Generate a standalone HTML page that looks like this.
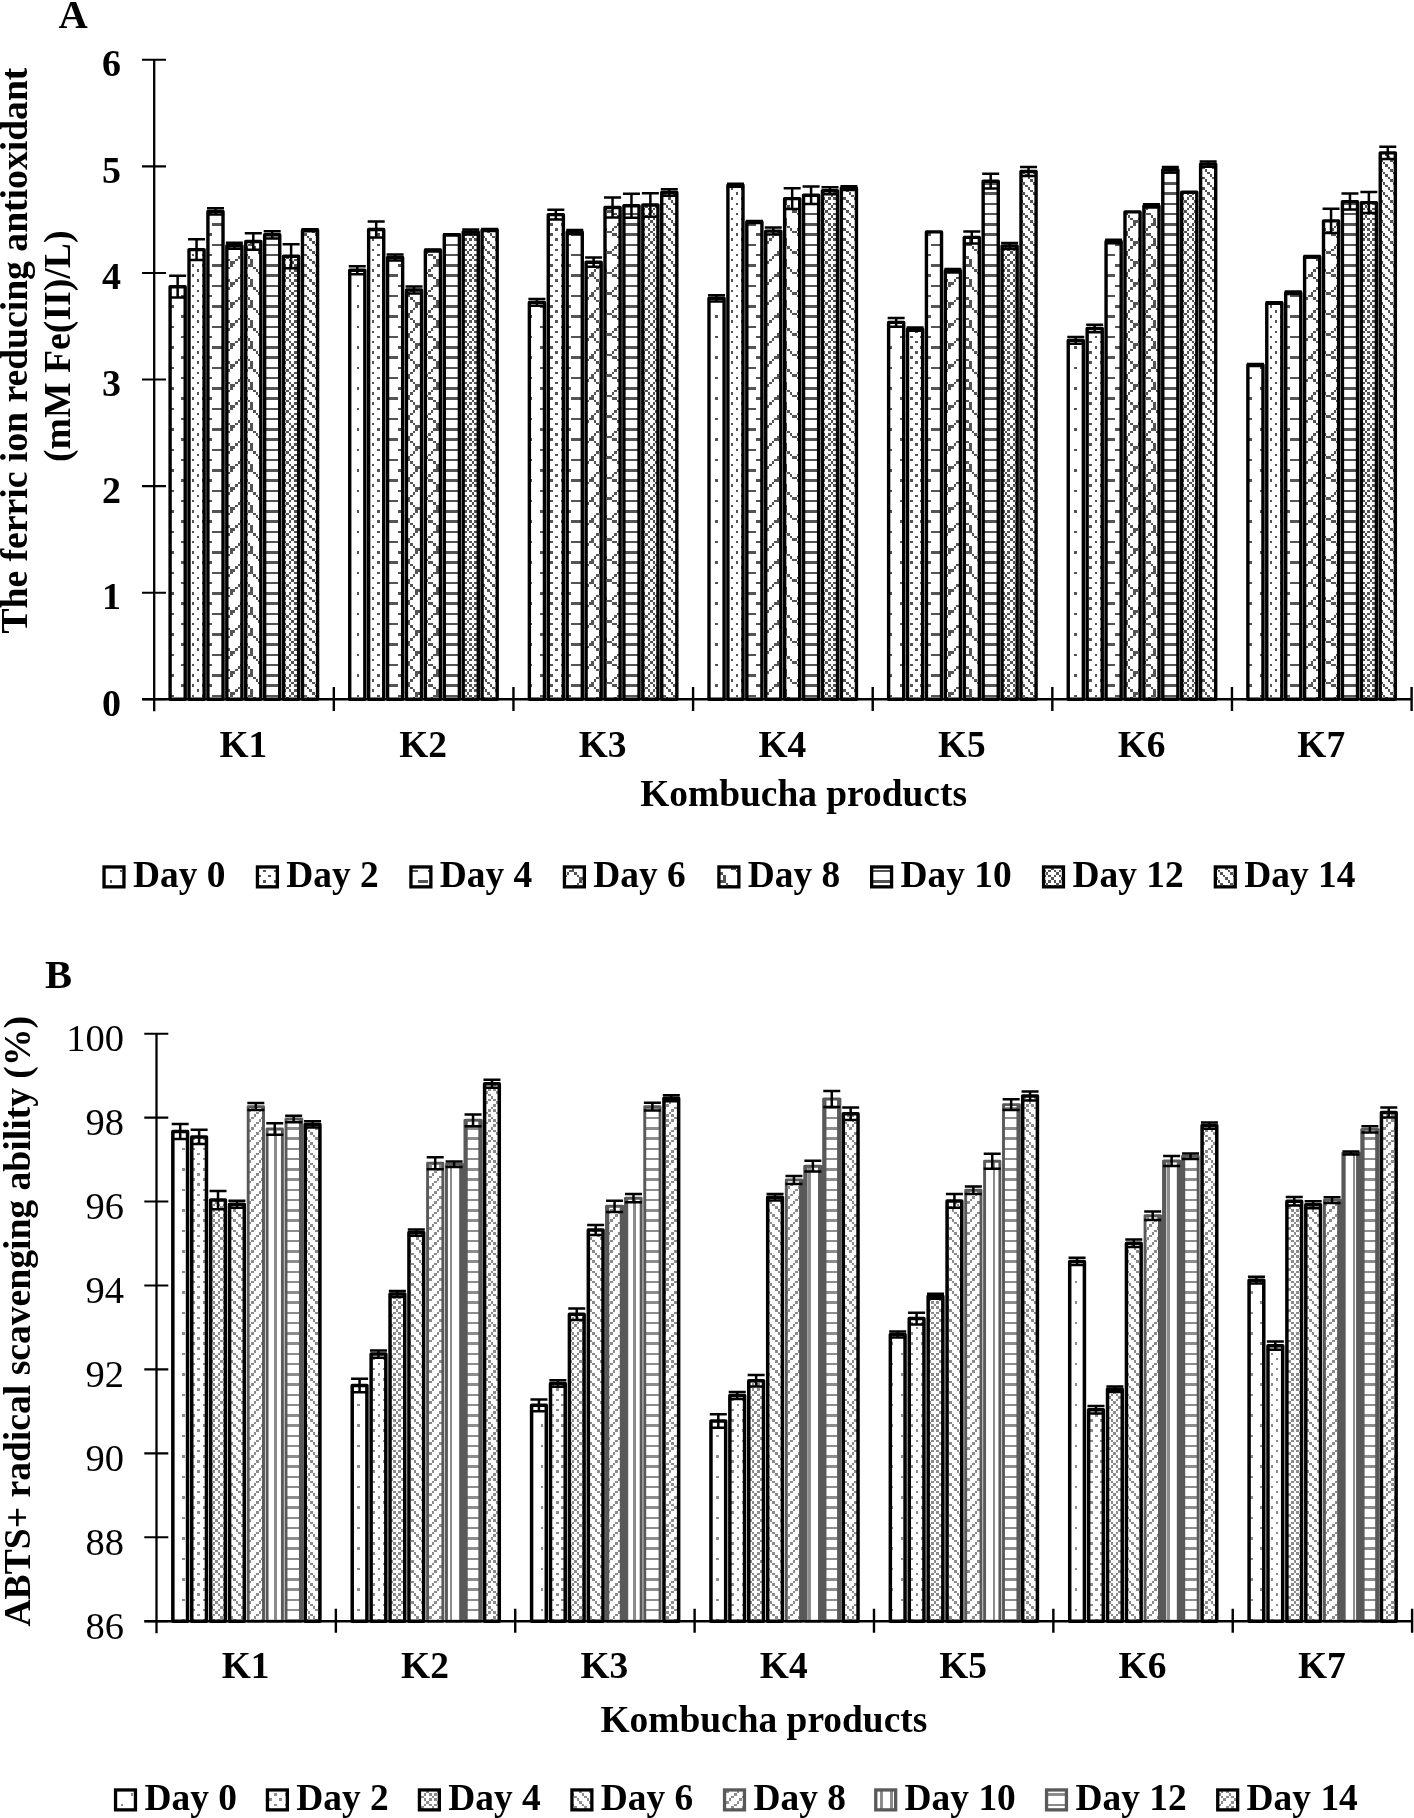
<!DOCTYPE html>
<html lang="en"><head><meta charset="utf-8"><title>Kombucha antioxidant charts</title>
<style>html,body{margin:0;padding:0;background:#fff}body{width:1414px;height:1818px;overflow:hidden;font-family:"Liberation Serif",serif}svg{display:block;will-change:transform}</style></head>
<body>
<svg width="1414" height="1818" viewBox="0 0 1414 1818" font-family="'Liberation Serif', serif" fill="#000">
<rect width="1414" height="1818" fill="#fff"/>
<defs>
<pattern id="a0" patternUnits="userSpaceOnUse" width="41" height="41"><rect width="41" height="41" fill="#fff"/><path fill="#545454" shape-rendering="crispEdges" d="M0 0h3v3h-3zM21 0h2v3h-2zM10 10h3v3h-3zM31 10h2v3h-2zM0 21h3v2h-3zM21 21h2v2h-2zM10 31h3v2h-3zM31 31h2v2h-2z"/></pattern>
<pattern id="a1" patternUnits="userSpaceOnUse" width="41" height="41"><rect width="41" height="41" fill="#fff"/><path fill="#545454" shape-rendering="crispEdges" d="M0 0h3v3h-3zM10 0h3v3h-3zM21 0h2v3h-2zM31 0h2v3h-2zM5 5h3v3h-3zM15 5h3v3h-3zM26 5h2v3h-2zM36 5h2v3h-2zM0 10h3v3h-3zM10 10h3v3h-3zM21 10h2v3h-2zM31 10h2v3h-2zM5 15h3v3h-3zM15 15h3v3h-3zM26 15h2v3h-2zM36 15h2v3h-2zM0 21h3v2h-3zM10 21h3v2h-3zM21 21h2v2h-2zM31 21h2v2h-2zM5 26h3v2h-3zM15 26h3v2h-3zM26 26h2v2h-2zM36 26h2v2h-2zM0 31h3v2h-3zM10 31h3v2h-3zM21 31h2v2h-2zM31 31h2v2h-2zM5 36h3v2h-3zM15 36h3v2h-3zM26 36h2v2h-2zM36 36h2v2h-2z"/></pattern>
<pattern id="a2" patternUnits="userSpaceOnUse" width="41" height="41"><rect width="41" height="41" fill="#fff"/><path fill="#545454" shape-rendering="crispEdges" d="M0 0h10v3h-10zM21 0h10v3h-10zM10 10h11v3h-11zM31 10h10v3h-10zM0 21h10v2h-10zM21 21h10v2h-10zM10 31h11v2h-11zM31 31h10v2h-10z"/></pattern>
<pattern id="a3" patternUnits="userSpaceOnUse" width="41" height="41"><rect width="41" height="41" fill="#fff"/><path fill="#545454" shape-rendering="crispEdges" d="M18 0h3v3h-3zM38 0h3v3h-3zM15 3h3v2h-3zM36 3h2v2h-2zM13 5h2v3h-2zM33 5h3v3h-3zM10 8h3v2h-3zM31 8h2v2h-2zM8 10h5v3h-5zM28 10h5v3h-5zM5 13h3v2h-3zM13 13h2v2h-2zM26 13h2v2h-2zM33 13h3v2h-3zM3 15h2v3h-2zM15 15h3v3h-3zM23 15h3v3h-3zM36 15h2v3h-2zM0 18h3v3h-3zM18 18h5v3h-5zM38 18h3v3h-3zM18 21h3v2h-3zM38 21h3v2h-3zM15 23h3v3h-3zM36 23h2v3h-2zM13 26h2v2h-2zM33 26h3v2h-3zM10 28h3v3h-3zM31 28h2v3h-2zM8 31h5v2h-5zM28 31h5v2h-5zM5 33h3v3h-3zM13 33h2v3h-2zM26 33h2v3h-2zM33 33h3v3h-3zM3 36h2v2h-2zM15 36h3v2h-3zM23 36h3v2h-3zM36 36h2v2h-2zM0 38h3v3h-3zM18 38h5v3h-5zM38 38h3v3h-3z"/></pattern>
<pattern id="a4" patternUnits="userSpaceOnUse" width="41" height="41"><rect width="41" height="41" fill="#fff"/><path fill="#545454" shape-rendering="crispEdges" d="M15 0h6v3h-6zM36 0h5v3h-5zM0 3h3v2h-3zM13 3h2v2h-2zM21 3h2v2h-2zM33 3h3v2h-3zM3 5h2v3h-2zM10 5h3v3h-3zM23 5h3v3h-3zM31 5h2v3h-2zM5 8h5v2h-5zM26 8h5v2h-5zM10 10h5v3h-5zM31 10h5v3h-5zM15 13h3v2h-3zM36 13h2v2h-2zM18 15h3v3h-3zM38 15h3v3h-3zM18 18h3v3h-3zM38 18h3v3h-3zM15 21h6v2h-6zM36 21h5v2h-5zM0 23h3v3h-3zM13 23h2v3h-2zM21 23h2v3h-2zM33 23h3v3h-3zM3 26h2v2h-2zM10 26h3v2h-3zM23 26h3v2h-3zM31 26h2v2h-2zM5 28h5v3h-5zM26 28h5v3h-5zM10 31h5v2h-5zM31 31h5v2h-5zM15 33h3v3h-3zM36 33h2v3h-2zM18 36h3v2h-3zM38 36h3v2h-3zM18 38h3v3h-3zM38 38h3v3h-3z"/></pattern>
<pattern id="a5" patternUnits="userSpaceOnUse" width="41" height="41"><rect width="41" height="41" fill="#fff"/><path fill="#545454" shape-rendering="crispEdges" d="M0 0h41v3h-41zM0 10h41v3h-41zM0 21h41v2h-41zM0 31h41v2h-41z"/></pattern>
<pattern id="a6" patternUnits="userSpaceOnUse" width="41" height="41"><rect width="41" height="41" fill="#fff"/><path fill="#545454" shape-rendering="crispEdges" d="M0 0h3v3h-3zM5 0h3v3h-3zM10 0h3v3h-3zM15 0h3v3h-3zM21 0h2v3h-2zM26 0h2v3h-2zM31 0h2v3h-2zM36 0h2v3h-2zM3 3h2v2h-2zM13 3h2v2h-2zM23 3h3v2h-3zM33 3h3v2h-3zM0 5h3v3h-3zM5 5h3v3h-3zM10 5h3v3h-3zM15 5h3v3h-3zM21 5h2v3h-2zM26 5h2v3h-2zM31 5h2v3h-2zM36 5h2v3h-2zM8 8h2v2h-2zM18 8h3v2h-3zM28 8h3v2h-3zM38 8h3v2h-3zM0 10h3v3h-3zM5 10h3v3h-3zM10 10h3v3h-3zM15 10h3v3h-3zM21 10h2v3h-2zM26 10h2v3h-2zM31 10h2v3h-2zM36 10h2v3h-2zM3 13h2v2h-2zM13 13h2v2h-2zM23 13h3v2h-3zM33 13h3v2h-3zM0 15h3v3h-3zM5 15h3v3h-3zM10 15h3v3h-3zM15 15h3v3h-3zM21 15h2v3h-2zM26 15h2v3h-2zM31 15h2v3h-2zM36 15h2v3h-2zM8 18h2v3h-2zM18 18h3v3h-3zM28 18h3v3h-3zM38 18h3v3h-3zM0 21h3v2h-3zM5 21h3v2h-3zM10 21h3v2h-3zM15 21h3v2h-3zM21 21h2v2h-2zM26 21h2v2h-2zM31 21h2v2h-2zM36 21h2v2h-2zM3 23h2v3h-2zM13 23h2v3h-2zM23 23h3v3h-3zM33 23h3v3h-3zM0 26h3v2h-3zM5 26h3v2h-3zM10 26h3v2h-3zM15 26h3v2h-3zM21 26h2v2h-2zM26 26h2v2h-2zM31 26h2v2h-2zM36 26h2v2h-2zM8 28h2v3h-2zM18 28h3v3h-3zM28 28h3v3h-3zM38 28h3v3h-3zM0 31h3v2h-3zM5 31h3v2h-3zM10 31h3v2h-3zM15 31h3v2h-3zM21 31h2v2h-2zM26 31h2v2h-2zM31 31h2v2h-2zM36 31h2v2h-2zM3 33h2v3h-2zM13 33h2v3h-2zM23 33h3v3h-3zM33 33h3v3h-3zM0 36h3v2h-3zM5 36h3v2h-3zM10 36h3v2h-3zM15 36h3v2h-3zM21 36h2v2h-2zM26 36h2v2h-2zM31 36h2v2h-2zM36 36h2v2h-2zM8 38h2v3h-2zM18 38h3v3h-3zM28 38h3v3h-3zM38 38h3v3h-3z"/></pattern>
<pattern id="a7" patternUnits="userSpaceOnUse" width="41" height="41"><rect width="41" height="41" fill="#fff"/><path fill="#545454" shape-rendering="crispEdges" d="M0 0h3v3h-3zM10 0h3v3h-3zM21 0h2v3h-2zM31 0h2v3h-2zM3 3h2v2h-2zM13 3h2v2h-2zM23 3h3v2h-3zM33 3h3v2h-3zM5 5h3v3h-3zM15 5h3v3h-3zM26 5h2v3h-2zM36 5h2v3h-2zM8 8h2v2h-2zM18 8h3v2h-3zM28 8h3v2h-3zM38 8h3v2h-3zM0 10h3v3h-3zM10 10h3v3h-3zM21 10h2v3h-2zM31 10h2v3h-2zM3 13h2v2h-2zM13 13h2v2h-2zM23 13h3v2h-3zM33 13h3v2h-3zM5 15h3v3h-3zM15 15h3v3h-3zM26 15h2v3h-2zM36 15h2v3h-2zM8 18h2v3h-2zM18 18h3v3h-3zM28 18h3v3h-3zM38 18h3v3h-3zM0 21h3v2h-3zM10 21h3v2h-3zM21 21h2v2h-2zM31 21h2v2h-2zM3 23h2v3h-2zM13 23h2v3h-2zM23 23h3v3h-3zM33 23h3v3h-3zM5 26h3v2h-3zM15 26h3v2h-3zM26 26h2v2h-2zM36 26h2v2h-2zM8 28h2v3h-2zM18 28h3v3h-3zM28 28h3v3h-3zM38 28h3v3h-3zM0 31h3v2h-3zM10 31h3v2h-3zM21 31h2v2h-2zM31 31h2v2h-2zM3 33h2v3h-2zM13 33h2v3h-2zM23 33h3v3h-3zM33 33h3v3h-3zM5 36h3v2h-3zM15 36h3v2h-3zM26 36h2v2h-2zM36 36h2v2h-2zM8 38h2v3h-2zM18 38h3v3h-3zM28 38h3v3h-3zM38 38h3v3h-3z"/></pattern>
<pattern id="a0g0" href="#a0" patternTransform="translate(7 18)"/>
<pattern id="a1g0" href="#a1" patternTransform="translate(7 18)"/>
<pattern id="a2g0" href="#a2" patternTransform="translate(7 18)"/>
<pattern id="a3g0" href="#a3" patternTransform="translate(7 18)"/>
<pattern id="a4g0" href="#a4" patternTransform="translate(7 18)"/>
<pattern id="a5g0" href="#a5" patternTransform="translate(7 18)"/>
<pattern id="a6g0" href="#a6" patternTransform="translate(7 18)"/>
<pattern id="a7g0" href="#a7" patternTransform="translate(7 18)"/>
<pattern id="a0g1" href="#a0" patternTransform="translate(8 18)"/>
<pattern id="a1g1" href="#a1" patternTransform="translate(8 18)"/>
<pattern id="a2g1" href="#a2" patternTransform="translate(8 18)"/>
<pattern id="a3g1" href="#a3" patternTransform="translate(8 18)"/>
<pattern id="a4g1" href="#a4" patternTransform="translate(8 18)"/>
<pattern id="a5g1" href="#a5" patternTransform="translate(8 18)"/>
<pattern id="a6g1" href="#a6" patternTransform="translate(8 18)"/>
<pattern id="a7g1" href="#a7" patternTransform="translate(8 18)"/>
<pattern id="a0g2" href="#a0" patternTransform="translate(7 18)"/>
<pattern id="a1g2" href="#a1" patternTransform="translate(7 18)"/>
<pattern id="a2g2" href="#a2" patternTransform="translate(7 18)"/>
<pattern id="a3g2" href="#a3" patternTransform="translate(7 18)"/>
<pattern id="a4g2" href="#a4" patternTransform="translate(7 18)"/>
<pattern id="a5g2" href="#a5" patternTransform="translate(7 18)"/>
<pattern id="a6g2" href="#a6" patternTransform="translate(7 18)"/>
<pattern id="a7g2" href="#a7" patternTransform="translate(7 18)"/>
<pattern id="a0g3" href="#a0" patternTransform="translate(8 18)"/>
<pattern id="a1g3" href="#a1" patternTransform="translate(8 18)"/>
<pattern id="a2g3" href="#a2" patternTransform="translate(8 18)"/>
<pattern id="a3g3" href="#a3" patternTransform="translate(8 18)"/>
<pattern id="a4g3" href="#a4" patternTransform="translate(8 18)"/>
<pattern id="a5g3" href="#a5" patternTransform="translate(8 18)"/>
<pattern id="a6g3" href="#a6" patternTransform="translate(8 18)"/>
<pattern id="a7g3" href="#a7" patternTransform="translate(8 18)"/>
<pattern id="a0g4" href="#a0" patternTransform="translate(8 18)"/>
<pattern id="a1g4" href="#a1" patternTransform="translate(8 18)"/>
<pattern id="a2g4" href="#a2" patternTransform="translate(8 18)"/>
<pattern id="a3g4" href="#a3" patternTransform="translate(8 18)"/>
<pattern id="a4g4" href="#a4" patternTransform="translate(8 18)"/>
<pattern id="a5g4" href="#a5" patternTransform="translate(8 18)"/>
<pattern id="a6g4" href="#a6" patternTransform="translate(8 18)"/>
<pattern id="a7g4" href="#a7" patternTransform="translate(8 18)"/>
<pattern id="a0g5" href="#a0" patternTransform="translate(8 18)"/>
<pattern id="a1g5" href="#a1" patternTransform="translate(8 18)"/>
<pattern id="a2g5" href="#a2" patternTransform="translate(8 18)"/>
<pattern id="a3g5" href="#a3" patternTransform="translate(8 18)"/>
<pattern id="a4g5" href="#a4" patternTransform="translate(8 18)"/>
<pattern id="a5g5" href="#a5" patternTransform="translate(8 18)"/>
<pattern id="a6g5" href="#a6" patternTransform="translate(8 18)"/>
<pattern id="a7g5" href="#a7" patternTransform="translate(8 18)"/>
<pattern id="a0g6" href="#a0" patternTransform="translate(9 18)"/>
<pattern id="a1g6" href="#a1" patternTransform="translate(9 18)"/>
<pattern id="a2g6" href="#a2" patternTransform="translate(9 18)"/>
<pattern id="a3g6" href="#a3" patternTransform="translate(9 18)"/>
<pattern id="a4g6" href="#a4" patternTransform="translate(9 18)"/>
<pattern id="a5g6" href="#a5" patternTransform="translate(9 18)"/>
<pattern id="a6g6" href="#a6" patternTransform="translate(9 18)"/>
<pattern id="a7g6" href="#a7" patternTransform="translate(9 18)"/>
<pattern id="a0l" href="#a0" patternTransform="translate(7 19)"/>
<pattern id="a1l" href="#a1" patternTransform="translate(7 19)"/>
<pattern id="a2l" href="#a2" patternTransform="translate(8 19)"/>
<pattern id="a3l" href="#a3" patternTransform="translate(8 19)"/>
<pattern id="a4l" href="#a4" patternTransform="translate(8 19)"/>
<pattern id="a5l" href="#a5" patternTransform="translate(8 19)"/>
<pattern id="a6l" href="#a6" patternTransform="translate(8 19)"/>
<pattern id="a7l" href="#a7" patternTransform="translate(8 19)"/>
</defs>
<g stroke-width="3.4" stroke-linejoin="round">
<rect x="170.1" y="286.7" width="15.1" height="412.6" fill="url(#a0g0)" stroke="#000"/>
<rect x="189.01" y="249.6" width="15.1" height="449.7" fill="url(#a1g0)" stroke="#000"/>
<rect x="207.92" y="211.4" width="15.1" height="487.9" fill="url(#a2g0)" stroke="#000"/>
<rect x="226.83" y="245.7" width="15.1" height="453.6" fill="url(#a3g0)" stroke="#000"/>
<rect x="245.74" y="241.5" width="15.1" height="457.8" fill="url(#a4g0)" stroke="#000"/>
<rect x="264.65" y="234.8" width="15.1" height="464.5" fill="url(#a5g0)" stroke="#000"/>
<rect x="283.56" y="256.2" width="15.1" height="443.1" fill="url(#a6g0)" stroke="#000"/>
<rect x="302.47" y="230.3" width="15.1" height="469" fill="url(#a7g0)" stroke="#000"/>
<rect x="349.73" y="270.3" width="15.1" height="429" fill="url(#a0g1)" stroke="#000"/>
<rect x="368.64" y="229.5" width="15.1" height="469.8" fill="url(#a1g1)" stroke="#000"/>
<rect x="387.55" y="257.5" width="15.1" height="441.8" fill="url(#a2g1)" stroke="#000"/>
<rect x="406.46" y="290" width="15.1" height="409.3" fill="url(#a3g1)" stroke="#000"/>
<rect x="425.37" y="250.4" width="15.1" height="448.9" fill="url(#a4g1)" stroke="#000"/>
<rect x="444.28" y="234.8" width="15.1" height="464.5" fill="url(#a5g1)" stroke="#000"/>
<rect x="463.19" y="232" width="15.1" height="467.3" fill="url(#a6g1)" stroke="#000"/>
<rect x="482.1" y="230" width="15.1" height="469.3" fill="url(#a7g1)" stroke="#000"/>
<rect x="529.36" y="302.4" width="15.1" height="396.9" fill="url(#a0g2)" stroke="#000"/>
<rect x="548.27" y="214.6" width="15.1" height="484.7" fill="url(#a1g2)" stroke="#000"/>
<rect x="567.18" y="231.9" width="15.1" height="467.4" fill="url(#a2g2)" stroke="#000"/>
<rect x="586.09" y="262.2" width="15.1" height="437.1" fill="url(#a3g2)" stroke="#000"/>
<rect x="605" y="207.5" width="15.1" height="491.8" fill="url(#a4g2)" stroke="#000"/>
<rect x="623.91" y="205.8" width="15.1" height="493.5" fill="url(#a5g2)" stroke="#000"/>
<rect x="642.82" y="205" width="15.1" height="494.3" fill="url(#a6g2)" stroke="#000"/>
<rect x="661.73" y="192.5" width="15.1" height="506.8" fill="url(#a7g2)" stroke="#000"/>
<rect x="708.99" y="298.3" width="15.1" height="401" fill="url(#a0g3)" stroke="#000"/>
<rect x="727.9" y="185.3" width="15.1" height="514" fill="url(#a1g3)" stroke="#000"/>
<rect x="746.81" y="222" width="15.1" height="477.3" fill="url(#a2g3)" stroke="#000"/>
<rect x="765.72" y="231.1" width="15.1" height="468.2" fill="url(#a3g3)" stroke="#000"/>
<rect x="784.63" y="198.6" width="15.1" height="500.7" fill="url(#a4g3)" stroke="#000"/>
<rect x="803.54" y="195.3" width="15.1" height="504" fill="url(#a5g3)" stroke="#000"/>
<rect x="822.45" y="190.8" width="15.1" height="508.5" fill="url(#a6g3)" stroke="#000"/>
<rect x="841.36" y="188.1" width="15.1" height="511.2" fill="url(#a7g3)" stroke="#000"/>
<rect x="888.61" y="322.4" width="15.1" height="376.9" fill="url(#a0g4)" stroke="#000"/>
<rect x="907.52" y="329.2" width="15.1" height="370.1" fill="url(#a1g4)" stroke="#000"/>
<rect x="926.43" y="231.9" width="15.1" height="467.4" fill="url(#a2g4)" stroke="#000"/>
<rect x="945.34" y="270.8" width="15.1" height="428.5" fill="url(#a3g4)" stroke="#000"/>
<rect x="964.25" y="237.4" width="15.1" height="461.9" fill="url(#a4g4)" stroke="#000"/>
<rect x="983.16" y="181.2" width="15.1" height="518.1" fill="url(#a5g4)" stroke="#000"/>
<rect x="1002.07" y="246" width="15.1" height="453.3" fill="url(#a6g4)" stroke="#000"/>
<rect x="1020.98" y="171.5" width="15.1" height="527.8" fill="url(#a7g4)" stroke="#000"/>
<rect x="1068.24" y="340.4" width="15.1" height="358.9" fill="url(#a0g5)" stroke="#000"/>
<rect x="1087.15" y="328.5" width="15.1" height="370.8" fill="url(#a1g5)" stroke="#000"/>
<rect x="1106.06" y="241.5" width="15.1" height="457.8" fill="url(#a2g5)" stroke="#000"/>
<rect x="1124.97" y="211.9" width="15.1" height="487.4" fill="url(#a3g5)" stroke="#000"/>
<rect x="1143.88" y="205.9" width="15.1" height="493.4" fill="url(#a4g5)" stroke="#000"/>
<rect x="1162.79" y="169.7" width="15.1" height="529.6" fill="url(#a5g5)" stroke="#000"/>
<rect x="1181.7" y="192.2" width="15.1" height="507.1" fill="url(#a6g5)" stroke="#000"/>
<rect x="1200.61" y="164.1" width="15.1" height="535.2" fill="url(#a7g5)" stroke="#000"/>
<rect x="1247.87" y="365" width="15.1" height="334.3" fill="url(#a0g6)" stroke="#000"/>
<rect x="1266.78" y="303" width="15.1" height="396.3" fill="url(#a1g6)" stroke="#000"/>
<rect x="1285.69" y="292.8" width="15.1" height="406.5" fill="url(#a2g6)" stroke="#000"/>
<rect x="1304.6" y="256.8" width="15.1" height="442.5" fill="url(#a3g6)" stroke="#000"/>
<rect x="1323.51" y="220.9" width="15.1" height="478.4" fill="url(#a4g6)" stroke="#000"/>
<rect x="1342.42" y="201.6" width="15.1" height="497.7" fill="url(#a5g6)" stroke="#000"/>
<rect x="1361.33" y="202.6" width="15.1" height="496.7" fill="url(#a6g6)" stroke="#000"/>
<rect x="1380.24" y="152.9" width="15.1" height="546.4" fill="url(#a7g6)" stroke="#000"/>
</g>
<g stroke="#000" stroke-width="2.5" fill="none">
<path d="M177.65 275.8V297.6M169.15 275.8H186.15M169.15 297.6H186.15"/>
<path d="M196.56 239.2V260M188.06 239.2H205.06M188.06 260H205.06"/>
<path d="M215.47 208.2V214.6M206.97 208.2H223.97M206.97 214.6H223.97"/>
<path d="M234.38 242.7V248.7M225.88 242.7H242.88M225.88 248.7H242.88"/>
<path d="M253.29 233.2V249.8M244.79 233.2H261.79M244.79 249.8H261.79"/>
<path d="M272.2 231.2V238.4M263.7 231.2H280.7M263.7 238.4H280.7"/>
<path d="M291.11 244.2V268.2M282.61 244.2H299.61M282.61 268.2H299.61"/>
<path d="M310.02 229.3V231.3M301.52 229.3H318.52M301.52 231.3H318.52"/>
<path d="M357.28 266.3V274.3M348.78 266.3H365.78M348.78 274.3H365.78"/>
<path d="M376.19 221.5V237.5M367.69 221.5H384.69M367.69 237.5H384.69"/>
<path d="M395.1 254.5V260.5M386.6 254.5H403.6M386.6 260.5H403.6"/>
<path d="M414.01 286.5V293.5M405.51 286.5H422.51M405.51 293.5H422.51"/>
<path d="M432.92 249.4V251.4M424.42 249.4H441.42M424.42 251.4H441.42"/>
<path d="M451.83 234.3V235.3M443.33 234.3H460.33M443.33 235.3H460.33"/>
<path d="M470.74 229.4V234.6M462.24 229.4H479.24M462.24 234.6H479.24"/>
<path d="M489.65 229V231M481.15 229H498.15M481.15 231H498.15"/>
<path d="M536.91 299V305.8M528.41 299H545.41M528.41 305.8H545.41"/>
<path d="M555.82 209.8V219.4M547.32 209.8H564.32M547.32 219.4H564.32"/>
<path d="M574.73 229.9V233.9M566.23 229.9H583.23M566.23 233.9H583.23"/>
<path d="M593.64 257.6V266.8M585.14 257.6H602.14M585.14 266.8H602.14"/>
<path d="M612.55 197.5V217.5M604.05 197.5H621.05M604.05 217.5H621.05"/>
<path d="M631.46 193.8V217.8M622.96 193.8H639.96M622.96 217.8H639.96"/>
<path d="M650.37 193.3V216.7M641.87 193.3H658.87M641.87 216.7H658.87"/>
<path d="M669.28 189.3V195.7M660.78 189.3H677.78M660.78 195.7H677.78"/>
<path d="M716.54 295.2V301.4M708.04 295.2H725.04M708.04 301.4H725.04"/>
<path d="M735.45 183.8V186.8M726.95 183.8H743.95M726.95 186.8H743.95"/>
<path d="M754.36 221V223M745.86 221H762.86M745.86 223H762.86"/>
<path d="M773.27 227.6V234.6M764.77 227.6H781.77M764.77 234.6H781.77"/>
<path d="M792.18 188.3V208.9M783.68 188.3H800.68M783.68 208.9H800.68"/>
<path d="M811.09 186.6V204M802.59 186.6H819.59M802.59 204H819.59"/>
<path d="M830 187.3V194.3M821.5 187.3H838.5M821.5 194.3H838.5"/>
<path d="M848.91 186.2V190M840.41 186.2H857.41M840.41 190H857.41"/>
<path d="M896.16 318V326.8M887.66 318H904.66M887.66 326.8H904.66"/>
<path d="M915.07 327.6V330.8M906.57 327.6H923.57M906.57 330.8H923.57"/>
<path d="M952.89 269.1V272.5M944.39 269.1H961.39M944.39 272.5H961.39"/>
<path d="M971.8 231.4V243.4M963.3 231.4H980.3M963.3 243.4H980.3"/>
<path d="M990.71 173.8V188.6M982.21 173.8H999.21M982.21 188.6H999.21"/>
<path d="M1009.62 243V249M1001.12 243H1018.12M1001.12 249H1018.12"/>
<path d="M1028.53 167V176M1020.03 167H1037.03M1020.03 176H1037.03"/>
<path d="M1075.79 337.1V343.7M1067.29 337.1H1084.29M1067.29 343.7H1084.29"/>
<path d="M1094.7 324.7V332.3M1086.2 324.7H1103.2M1086.2 332.3H1103.2"/>
<path d="M1113.61 239.8V243.2M1105.11 239.8H1122.11M1105.11 243.2H1122.11"/>
<path d="M1151.43 204.2V207.6M1142.93 204.2H1159.93M1142.93 207.6H1159.93"/>
<path d="M1170.34 166.9V172.5M1161.84 166.9H1178.84M1161.84 172.5H1178.84"/>
<path d="M1208.16 161.4V166.8M1199.66 161.4H1216.66M1199.66 166.8H1216.66"/>
<path d="M1255.42 364V366M1246.92 364H1263.92M1246.92 366H1263.92"/>
<path d="M1274.33 302.2V303.8M1265.83 302.2H1282.83M1265.83 303.8H1282.83"/>
<path d="M1293.24 291.5V294.1M1284.74 291.5H1301.74M1284.74 294.1H1301.74"/>
<path d="M1312.15 256V257.6M1303.65 256H1320.65M1303.65 257.6H1320.65"/>
<path d="M1331.06 208.8V233M1322.56 208.8H1339.56M1322.56 233H1339.56"/>
<path d="M1349.97 193.6V209.6M1341.47 193.6H1358.47M1341.47 209.6H1358.47"/>
<path d="M1368.88 192.1V213.1M1360.38 192.1H1377.38M1360.38 213.1H1377.38"/>
<path d="M1387.79 146.8V159M1379.29 146.8H1396.29M1379.29 159H1396.29"/>
</g>
<g stroke="#000" fill="none">
<path stroke-width="2.3" d="M154.2 59.8V711.3"/>
<path stroke-width="2.6" d="M142.2 699.3H1411.6"/>
<path stroke-width="2.1" d="M142 699.3H166M142 592.72H166M142 486.13H166M142 379.55H166M142 272.97H166M142 166.38H166M142 59.8H166"/>
<path stroke-width="2.4" d="M333.83 686.9V710.9M513.46 686.9V710.9M693.09 686.9V710.9M872.71 686.9V710.9M1052.34 686.9V710.9M1231.97 686.9V710.9M1411.6 686.9V710.9"/>
</g>
<g font-weight="bold" font-size="38" text-anchor="end">
<text x="121" y="715.7">0</text>
<text x="121" y="609.12">1</text>
<text x="121" y="502.53">2</text>
<text x="121" y="395.95">3</text>
<text x="121" y="289.37">4</text>
<text x="121" y="182.78">5</text>
<text x="121" y="76.2">6</text>
</g>
<g font-weight="bold" font-size="38">
<text transform="translate(243.41 756.5) scale(0.985 1)" text-anchor="middle">K1</text>
<text transform="translate(423.04 756.5) scale(0.985 1)" text-anchor="middle">K2</text>
<text transform="translate(602.67 756.5) scale(0.985 1)" text-anchor="middle">K3</text>
<text transform="translate(782.3 756.5) scale(0.985 1)" text-anchor="middle">K4</text>
<text transform="translate(961.93 756.5) scale(0.985 1)" text-anchor="middle">K5</text>
<text transform="translate(1141.56 756.5) scale(0.985 1)" text-anchor="middle">K6</text>
<text transform="translate(1321.19 756.5) scale(0.985 1)" text-anchor="middle">K7</text>
<text transform="translate(803.6 805.5) scale(0.985 1)" text-anchor="middle">Kombucha products</text>
<text transform="translate(132.9 887.1) scale(0.985 1)">Day 0</text>
<text transform="translate(286.3 887.1) scale(0.985 1)">Day 2</text>
<text transform="translate(439.8 887.1) scale(0.985 1)">Day 4</text>
<text transform="translate(593.3 887.1) scale(0.985 1)">Day 6</text>
<text transform="translate(747.8 887.1) scale(0.985 1)">Day 8</text>
<text transform="translate(900.5 887.1) scale(0.985 1)">Day 10</text>
<text transform="translate(1072.4 887.1) scale(0.985 1)">Day 12</text>
<text transform="translate(1244.2 887.1) scale(0.985 1)">Day 14</text>
</g>
<g stroke-width="3.3">
<rect x="104.05" y="866.95" width="19.9" height="19.9" fill="url(#a0l)" stroke="#000"/>
<rect x="257.45" y="866.95" width="19.9" height="19.9" fill="url(#a1l)" stroke="#000"/>
<rect x="410.95" y="866.95" width="19.9" height="19.9" fill="url(#a2l)" stroke="#000"/>
<rect x="564.45" y="866.95" width="19.9" height="19.9" fill="url(#a3l)" stroke="#000"/>
<rect x="718.95" y="866.95" width="19.9" height="19.9" fill="url(#a4l)" stroke="#000"/>
<rect x="871.65" y="866.95" width="19.9" height="19.9" fill="url(#a5l)" stroke="#000"/>
<rect x="1043.55" y="866.95" width="19.9" height="19.9" fill="url(#a6l)" stroke="#000"/>
<rect x="1215.35" y="866.95" width="19.9" height="19.9" fill="url(#a7l)" stroke="#000"/>
</g>
<defs>
<pattern id="b0" patternUnits="userSpaceOnUse" width="41" height="41"><rect width="41" height="41" fill="#fff"/><path fill="#8c8c8c" shape-rendering="crispEdges" d="M0 0h3v3h-3zM21 0h2v3h-2zM10 10h3v3h-3zM31 10h2v3h-2zM0 21h3v2h-3zM21 21h2v2h-2zM10 31h3v2h-3zM31 31h2v2h-2z"/></pattern>
<pattern id="b1" patternUnits="userSpaceOnUse" width="41" height="41"><rect width="41" height="41" fill="#fff"/><path fill="#8c8c8c" shape-rendering="crispEdges" d="M0 0h3v3h-3zM10 0h3v3h-3zM21 0h2v3h-2zM31 0h2v3h-2zM5 5h3v3h-3zM15 5h3v3h-3zM26 5h2v3h-2zM36 5h2v3h-2zM0 10h3v3h-3zM10 10h3v3h-3zM21 10h2v3h-2zM31 10h2v3h-2zM5 15h3v3h-3zM15 15h3v3h-3zM26 15h2v3h-2zM36 15h2v3h-2zM0 21h3v2h-3zM10 21h3v2h-3zM21 21h2v2h-2zM31 21h2v2h-2zM5 26h3v2h-3zM15 26h3v2h-3zM26 26h2v2h-2zM36 26h2v2h-2zM0 31h3v2h-3zM10 31h3v2h-3zM21 31h2v2h-2zM31 31h2v2h-2zM5 36h3v2h-3zM15 36h3v2h-3zM26 36h2v2h-2zM36 36h2v2h-2z"/></pattern>
<pattern id="b2" patternUnits="userSpaceOnUse" width="41" height="41"><rect width="41" height="41" fill="#fff"/><path fill="#8c8c8c" shape-rendering="crispEdges" d="M0 0h3v3h-3zM5 0h3v3h-3zM10 0h3v3h-3zM15 0h3v3h-3zM21 0h2v3h-2zM26 0h2v3h-2zM31 0h2v3h-2zM36 0h2v3h-2zM3 3h2v2h-2zM13 3h2v2h-2zM23 3h3v2h-3zM33 3h3v2h-3zM0 5h3v3h-3zM5 5h3v3h-3zM10 5h3v3h-3zM15 5h3v3h-3zM21 5h2v3h-2zM26 5h2v3h-2zM31 5h2v3h-2zM36 5h2v3h-2zM8 8h2v2h-2zM18 8h3v2h-3zM28 8h3v2h-3zM38 8h3v2h-3zM0 10h3v3h-3zM5 10h3v3h-3zM10 10h3v3h-3zM15 10h3v3h-3zM21 10h2v3h-2zM26 10h2v3h-2zM31 10h2v3h-2zM36 10h2v3h-2zM3 13h2v2h-2zM13 13h2v2h-2zM23 13h3v2h-3zM33 13h3v2h-3zM0 15h3v3h-3zM5 15h3v3h-3zM10 15h3v3h-3zM15 15h3v3h-3zM21 15h2v3h-2zM26 15h2v3h-2zM31 15h2v3h-2zM36 15h2v3h-2zM8 18h2v3h-2zM18 18h3v3h-3zM28 18h3v3h-3zM38 18h3v3h-3zM0 21h3v2h-3zM5 21h3v2h-3zM10 21h3v2h-3zM15 21h3v2h-3zM21 21h2v2h-2zM26 21h2v2h-2zM31 21h2v2h-2zM36 21h2v2h-2zM3 23h2v3h-2zM13 23h2v3h-2zM23 23h3v3h-3zM33 23h3v3h-3zM0 26h3v2h-3zM5 26h3v2h-3zM10 26h3v2h-3zM15 26h3v2h-3zM21 26h2v2h-2zM26 26h2v2h-2zM31 26h2v2h-2zM36 26h2v2h-2zM8 28h2v3h-2zM18 28h3v3h-3zM28 28h3v3h-3zM38 28h3v3h-3zM0 31h3v2h-3zM5 31h3v2h-3zM10 31h3v2h-3zM15 31h3v2h-3zM21 31h2v2h-2zM26 31h2v2h-2zM31 31h2v2h-2zM36 31h2v2h-2zM3 33h2v3h-2zM13 33h2v3h-2zM23 33h3v3h-3zM33 33h3v3h-3zM0 36h3v2h-3zM5 36h3v2h-3zM10 36h3v2h-3zM15 36h3v2h-3zM21 36h2v2h-2zM26 36h2v2h-2zM31 36h2v2h-2zM36 36h2v2h-2zM8 38h2v3h-2zM18 38h3v3h-3zM28 38h3v3h-3zM38 38h3v3h-3z"/></pattern>
<pattern id="b3" patternUnits="userSpaceOnUse" width="41" height="41"><rect width="41" height="41" fill="#fff"/><path fill="#8c8c8c" shape-rendering="crispEdges" d="M0 0h3v3h-3zM10 0h3v3h-3zM21 0h2v3h-2zM31 0h2v3h-2zM3 3h2v2h-2zM13 3h2v2h-2zM23 3h3v2h-3zM33 3h3v2h-3zM5 5h3v3h-3zM15 5h3v3h-3zM26 5h2v3h-2zM36 5h2v3h-2zM8 8h2v2h-2zM18 8h3v2h-3zM28 8h3v2h-3zM38 8h3v2h-3zM0 10h3v3h-3zM10 10h3v3h-3zM21 10h2v3h-2zM31 10h2v3h-2zM3 13h2v2h-2zM13 13h2v2h-2zM23 13h3v2h-3zM33 13h3v2h-3zM5 15h3v3h-3zM15 15h3v3h-3zM26 15h2v3h-2zM36 15h2v3h-2zM8 18h2v3h-2zM18 18h3v3h-3zM28 18h3v3h-3zM38 18h3v3h-3zM0 21h3v2h-3zM10 21h3v2h-3zM21 21h2v2h-2zM31 21h2v2h-2zM3 23h2v3h-2zM13 23h2v3h-2zM23 23h3v3h-3zM33 23h3v3h-3zM5 26h3v2h-3zM15 26h3v2h-3zM26 26h2v2h-2zM36 26h2v2h-2zM8 28h2v3h-2zM18 28h3v3h-3zM28 28h3v3h-3zM38 28h3v3h-3zM0 31h3v2h-3zM10 31h3v2h-3zM21 31h2v2h-2zM31 31h2v2h-2zM3 33h2v3h-2zM13 33h2v3h-2zM23 33h3v3h-3zM33 33h3v3h-3zM5 36h3v2h-3zM15 36h3v2h-3zM26 36h2v2h-2zM36 36h2v2h-2zM8 38h2v3h-2zM18 38h3v3h-3zM28 38h3v3h-3zM38 38h3v3h-3z"/></pattern>
<pattern id="b4" patternUnits="userSpaceOnUse" width="41" height="41"><rect width="41" height="41" fill="#fff"/><path fill="#8c8c8c" shape-rendering="crispEdges" d="M8 0h2v3h-2zM18 0h3v3h-3zM28 0h3v3h-3zM38 0h3v3h-3zM5 3h3v2h-3zM15 3h3v2h-3zM26 3h2v2h-2zM36 3h2v2h-2zM3 5h2v3h-2zM13 5h2v3h-2zM23 5h3v3h-3zM33 5h3v3h-3zM0 8h3v2h-3zM10 8h3v2h-3zM21 8h2v2h-2zM31 8h2v2h-2zM8 10h2v3h-2zM18 10h3v3h-3zM28 10h3v3h-3zM38 10h3v3h-3zM5 13h3v2h-3zM15 13h3v2h-3zM26 13h2v2h-2zM36 13h2v2h-2zM3 15h2v3h-2zM13 15h2v3h-2zM23 15h3v3h-3zM33 15h3v3h-3zM0 18h3v3h-3zM10 18h3v3h-3zM21 18h2v3h-2zM31 18h2v3h-2zM8 21h2v2h-2zM18 21h3v2h-3zM28 21h3v2h-3zM38 21h3v2h-3zM5 23h3v3h-3zM15 23h3v3h-3zM26 23h2v3h-2zM36 23h2v3h-2zM3 26h2v2h-2zM13 26h2v2h-2zM23 26h3v2h-3zM33 26h3v2h-3zM0 28h3v3h-3zM10 28h3v3h-3zM21 28h2v3h-2zM31 28h2v3h-2zM8 31h2v2h-2zM18 31h3v2h-3zM28 31h3v2h-3zM38 31h3v2h-3zM5 33h3v3h-3zM15 33h3v3h-3zM26 33h2v3h-2zM36 33h2v3h-2zM3 36h2v2h-2zM13 36h2v2h-2zM23 36h3v2h-3zM33 36h3v2h-3zM0 38h3v3h-3zM10 38h3v3h-3zM21 38h2v3h-2zM31 38h2v3h-2z"/></pattern>
<pattern id="b5" patternUnits="userSpaceOnUse" width="41" height="41"><rect width="41" height="41" fill="#fff"/><path fill="#8c8c8c" shape-rendering="crispEdges" d="M0 0h3v3h-3zM10 0h3v3h-3zM21 0h2v3h-2zM31 0h2v3h-2zM0 3h3v2h-3zM10 3h3v2h-3zM21 3h2v2h-2zM31 3h2v2h-2zM0 5h3v3h-3zM10 5h3v3h-3zM21 5h2v3h-2zM31 5h2v3h-2zM0 8h3v2h-3zM10 8h3v2h-3zM21 8h2v2h-2zM31 8h2v2h-2zM0 10h3v3h-3zM10 10h3v3h-3zM21 10h2v3h-2zM31 10h2v3h-2zM0 13h3v2h-3zM10 13h3v2h-3zM21 13h2v2h-2zM31 13h2v2h-2zM0 15h3v3h-3zM10 15h3v3h-3zM21 15h2v3h-2zM31 15h2v3h-2zM0 18h3v3h-3zM10 18h3v3h-3zM21 18h2v3h-2zM31 18h2v3h-2zM0 21h3v2h-3zM10 21h3v2h-3zM21 21h2v2h-2zM31 21h2v2h-2zM0 23h3v3h-3zM10 23h3v3h-3zM21 23h2v3h-2zM31 23h2v3h-2zM0 26h3v2h-3zM10 26h3v2h-3zM21 26h2v2h-2zM31 26h2v2h-2zM0 28h3v3h-3zM10 28h3v3h-3zM21 28h2v3h-2zM31 28h2v3h-2zM0 31h3v2h-3zM10 31h3v2h-3zM21 31h2v2h-2zM31 31h2v2h-2zM0 33h3v3h-3zM10 33h3v3h-3zM21 33h2v3h-2zM31 33h2v3h-2zM0 36h3v2h-3zM10 36h3v2h-3zM21 36h2v2h-2zM31 36h2v2h-2zM0 38h3v3h-3zM10 38h3v3h-3zM21 38h2v3h-2zM31 38h2v3h-2z"/></pattern>
<pattern id="b6" patternUnits="userSpaceOnUse" width="41" height="41"><rect width="41" height="41" fill="#fff"/><path fill="#8c8c8c" shape-rendering="crispEdges" d="M0 0h41v3h-41zM0 10h41v3h-41zM0 21h41v2h-41zM0 31h41v2h-41z"/></pattern>
<pattern id="b7" patternUnits="userSpaceOnUse" width="41" height="41"><rect width="41" height="41" fill="#fff"/><path fill="#8c8c8c" shape-rendering="crispEdges" d="M0 0h3v3h-3zM10 0h3v3h-3zM21 0h2v3h-2zM31 0h2v3h-2zM3 3h2v2h-2zM18 3h3v2h-3zM23 3h3v2h-3zM38 3h3v2h-3zM5 5h3v3h-3zM15 5h3v3h-3zM26 5h2v3h-2zM36 5h2v3h-2zM8 8h2v2h-2zM13 8h2v2h-2zM18 8h3v2h-3zM28 8h3v2h-3zM33 8h3v2h-3zM38 8h3v2h-3zM0 10h3v3h-3zM10 10h3v3h-3zM21 10h2v3h-2zM31 10h2v3h-2zM3 13h2v2h-2zM13 13h2v2h-2zM18 13h3v2h-3zM23 13h3v2h-3zM33 13h3v2h-3zM38 13h3v2h-3zM5 15h3v3h-3zM15 15h3v3h-3zM26 15h2v3h-2zM36 15h2v3h-2zM3 18h2v3h-2zM8 18h2v3h-2zM13 18h2v3h-2zM23 18h3v3h-3zM28 18h3v3h-3zM33 18h3v3h-3zM0 21h3v2h-3zM10 21h3v2h-3zM21 21h2v2h-2zM31 21h2v2h-2zM3 23h2v3h-2zM18 23h3v3h-3zM23 23h3v3h-3zM38 23h3v3h-3zM5 26h3v2h-3zM15 26h3v2h-3zM26 26h2v2h-2zM36 26h2v2h-2zM8 28h2v3h-2zM13 28h2v3h-2zM18 28h3v3h-3zM28 28h3v3h-3zM33 28h3v3h-3zM38 28h3v3h-3zM0 31h3v2h-3zM10 31h3v2h-3zM21 31h2v2h-2zM31 31h2v2h-2zM3 33h2v3h-2zM13 33h2v3h-2zM18 33h3v3h-3zM23 33h3v3h-3zM33 33h3v3h-3zM38 33h3v3h-3zM5 36h3v2h-3zM15 36h3v2h-3zM26 36h2v2h-2zM36 36h2v2h-2zM3 38h2v3h-2zM8 38h2v3h-2zM13 38h2v3h-2zM23 38h3v3h-3zM28 38h3v3h-3zM33 38h3v3h-3z"/></pattern>
<pattern id="b0g0" href="#b0" patternTransform="translate(18 20)"/>
<pattern id="b1g0" href="#b1" patternTransform="translate(18 20)"/>
<pattern id="b2g0" href="#b2" patternTransform="translate(18 20)"/>
<pattern id="b3g0" href="#b3" patternTransform="translate(18 20)"/>
<pattern id="b4g0" href="#b4" patternTransform="translate(18 20)"/>
<pattern id="b5g0" href="#b5" patternTransform="translate(18 20)"/>
<pattern id="b6g0" href="#b6" patternTransform="translate(18 20)"/>
<pattern id="b7g0" href="#b7" patternTransform="translate(18 20)"/>
<pattern id="b0g1" href="#b0" patternTransform="translate(19 20)"/>
<pattern id="b1g1" href="#b1" patternTransform="translate(19 20)"/>
<pattern id="b2g1" href="#b2" patternTransform="translate(19 20)"/>
<pattern id="b3g1" href="#b3" patternTransform="translate(19 20)"/>
<pattern id="b4g1" href="#b4" patternTransform="translate(19 20)"/>
<pattern id="b5g1" href="#b5" patternTransform="translate(19 20)"/>
<pattern id="b6g1" href="#b6" patternTransform="translate(19 20)"/>
<pattern id="b7g1" href="#b7" patternTransform="translate(19 20)"/>
<pattern id="b0g2" href="#b0" patternTransform="translate(18 20)"/>
<pattern id="b1g2" href="#b1" patternTransform="translate(18 20)"/>
<pattern id="b2g2" href="#b2" patternTransform="translate(18 20)"/>
<pattern id="b3g2" href="#b3" patternTransform="translate(18 20)"/>
<pattern id="b4g2" href="#b4" patternTransform="translate(18 20)"/>
<pattern id="b5g2" href="#b5" patternTransform="translate(18 20)"/>
<pattern id="b6g2" href="#b6" patternTransform="translate(18 20)"/>
<pattern id="b7g2" href="#b7" patternTransform="translate(18 20)"/>
<pattern id="b0g3" href="#b0" patternTransform="translate(19 20)"/>
<pattern id="b1g3" href="#b1" patternTransform="translate(19 20)"/>
<pattern id="b2g3" href="#b2" patternTransform="translate(19 20)"/>
<pattern id="b3g3" href="#b3" patternTransform="translate(19 20)"/>
<pattern id="b4g3" href="#b4" patternTransform="translate(19 20)"/>
<pattern id="b5g3" href="#b5" patternTransform="translate(19 20)"/>
<pattern id="b6g3" href="#b6" patternTransform="translate(19 20)"/>
<pattern id="b7g3" href="#b7" patternTransform="translate(19 20)"/>
<pattern id="b0g4" href="#b0" patternTransform="translate(19 20)"/>
<pattern id="b1g4" href="#b1" patternTransform="translate(19 20)"/>
<pattern id="b2g4" href="#b2" patternTransform="translate(19 20)"/>
<pattern id="b3g4" href="#b3" patternTransform="translate(19 20)"/>
<pattern id="b4g4" href="#b4" patternTransform="translate(19 20)"/>
<pattern id="b5g4" href="#b5" patternTransform="translate(19 20)"/>
<pattern id="b6g4" href="#b6" patternTransform="translate(19 20)"/>
<pattern id="b7g4" href="#b7" patternTransform="translate(19 20)"/>
<pattern id="b0g5" href="#b0" patternTransform="translate(19 20)"/>
<pattern id="b1g5" href="#b1" patternTransform="translate(19 20)"/>
<pattern id="b2g5" href="#b2" patternTransform="translate(19 20)"/>
<pattern id="b3g5" href="#b3" patternTransform="translate(19 20)"/>
<pattern id="b4g5" href="#b4" patternTransform="translate(19 20)"/>
<pattern id="b5g5" href="#b5" patternTransform="translate(19 20)"/>
<pattern id="b6g5" href="#b6" patternTransform="translate(19 20)"/>
<pattern id="b7g5" href="#b7" patternTransform="translate(19 20)"/>
<pattern id="b0g6" href="#b0" patternTransform="translate(20 20)"/>
<pattern id="b1g6" href="#b1" patternTransform="translate(20 20)"/>
<pattern id="b2g6" href="#b2" patternTransform="translate(20 20)"/>
<pattern id="b3g6" href="#b3" patternTransform="translate(20 20)"/>
<pattern id="b4g6" href="#b4" patternTransform="translate(20 20)"/>
<pattern id="b5g6" href="#b5" patternTransform="translate(20 20)"/>
<pattern id="b6g6" href="#b6" patternTransform="translate(20 20)"/>
<pattern id="b7g6" href="#b7" patternTransform="translate(20 20)"/>
<pattern id="b0l" href="#b0" patternTransform="translate(18 20)"/>
<pattern id="b1l" href="#b1" patternTransform="translate(18 20)"/>
<pattern id="b2l" href="#b2" patternTransform="translate(19 20)"/>
<pattern id="b3l" href="#b3" patternTransform="translate(18 20)"/>
<pattern id="b4l" href="#b4" patternTransform="translate(19 20)"/>
<pattern id="b5l" href="#b5" patternTransform="translate(19 20)"/>
<pattern id="b6l" href="#b6" patternTransform="translate(19 20)"/>
<pattern id="b7l" href="#b7" patternTransform="translate(19 20)"/>
</defs>
<g stroke-width="3.5" stroke-linejoin="round">
<rect x="172.85" y="1131.5" width="14.7" height="489.7" fill="url(#b0g0)" stroke="#000"/>
<rect x="191.76" y="1136.9" width="14.7" height="484.3" fill="url(#b1g0)" stroke="#000"/>
<rect x="210.67" y="1200.1" width="14.7" height="421.1" fill="url(#b2g0)" stroke="#000"/>
<rect x="229.58" y="1204.3" width="14.7" height="416.9" fill="url(#b3g0)" stroke="#000"/>
<rect x="248.19" y="1106.6" width="15.3" height="514.6" fill="url(#b4g0)" stroke="#595959" stroke-width="2.9"/>
<rect x="267.1" y="1129" width="15.3" height="492.2" fill="url(#b5g0)" stroke="#595959" stroke-width="2.9"/>
<rect x="286.01" y="1119" width="15.3" height="502.2" fill="url(#b6g0)" stroke="#595959" stroke-width="2.9"/>
<rect x="298.96" y="1118.15" width="4.3" height="503.05" fill="#595959" stroke="none"/>
<rect x="305.22" y="1124.4" width="14.7" height="496.8" fill="url(#b7g0)" stroke="#000"/>
<rect x="352.22" y="1385.5" width="14.7" height="235.7" fill="url(#b0g1)" stroke="#000"/>
<rect x="371.13" y="1354.1" width="14.7" height="267.1" fill="url(#b1g1)" stroke="#000"/>
<rect x="390.04" y="1294" width="14.7" height="327.2" fill="url(#b2g1)" stroke="#000"/>
<rect x="408.95" y="1232.6" width="14.7" height="388.6" fill="url(#b3g1)" stroke="#000"/>
<rect x="427.56" y="1163.2" width="15.3" height="458" fill="url(#b4g1)" stroke="#595959" stroke-width="2.9"/>
<rect x="446.47" y="1164.3" width="15.3" height="456.9" fill="url(#b5g1)" stroke="#595959" stroke-width="2.9"/>
<rect x="459.42" y="1163.45" width="6.5" height="457.75" fill="#595959" stroke="none"/>
<rect x="459.42" y="1163.45" width="4.3" height="457.75" fill="#595959" stroke="none"/>
<rect x="465.38" y="1120.3" width="15.3" height="500.9" fill="url(#b6g1)" stroke="#595959" stroke-width="2.9"/>
<rect x="463.53" y="1119.45" width="4.2" height="501.75" fill="#595959" stroke="none"/>
<rect x="478.33" y="1119.45" width="4.3" height="501.75" fill="#595959" stroke="none"/>
<rect x="484.59" y="1083.8" width="14.7" height="537.4" fill="url(#b7g1)" stroke="#000"/>
<rect x="531.59" y="1405.3" width="14.7" height="215.9" fill="url(#b0g2)" stroke="#000"/>
<rect x="550.5" y="1383.5" width="14.7" height="237.7" fill="url(#b1g2)" stroke="#000"/>
<rect x="569.41" y="1314.2" width="14.7" height="307" fill="url(#b2g2)" stroke="#000"/>
<rect x="588.32" y="1230.1" width="14.7" height="391.1" fill="url(#b3g2)" stroke="#000"/>
<rect x="606.93" y="1206.3" width="15.3" height="414.9" fill="url(#b4g2)" stroke="#595959" stroke-width="2.9"/>
<rect x="605.08" y="1205.45" width="4.2" height="415.75" fill="#595959" stroke="none"/>
<rect x="619.88" y="1205.45" width="6.5" height="415.75" fill="#595959" stroke="none"/>
<rect x="619.88" y="1205.45" width="4.3" height="415.75" fill="#595959" stroke="none"/>
<rect x="625.84" y="1198.2" width="15.3" height="423" fill="url(#b5g2)" stroke="#595959" stroke-width="2.9"/>
<rect x="623.99" y="1197.35" width="4.2" height="423.85" fill="#595959" stroke="none"/>
<rect x="644.75" y="1106.7" width="15.3" height="514.5" fill="url(#b6g2)" stroke="#595959" stroke-width="2.9"/>
<rect x="663.96" y="1098.3" width="14.7" height="522.9" fill="url(#b7g2)" stroke="#000"/>
<rect x="710.96" y="1421" width="14.7" height="200.2" fill="url(#b0g3)" stroke="#000"/>
<rect x="729.87" y="1395.4" width="14.7" height="225.8" fill="url(#b1g3)" stroke="#000"/>
<rect x="748.78" y="1380.7" width="14.7" height="240.5" fill="url(#b2g3)" stroke="#000"/>
<rect x="767.69" y="1197.3" width="14.7" height="423.9" fill="url(#b3g3)" stroke="#000"/>
<rect x="786.3" y="1179.9" width="15.3" height="441.3" fill="url(#b4g3)" stroke="#595959" stroke-width="2.9"/>
<rect x="799.25" y="1179.05" width="6.5" height="442.15" fill="#595959" stroke="none"/>
<rect x="799.25" y="1179.05" width="4.3" height="442.15" fill="#595959" stroke="none"/>
<rect x="805.21" y="1166.2" width="15.3" height="455" fill="url(#b5g3)" stroke="#595959" stroke-width="2.9"/>
<rect x="803.36" y="1165.35" width="4.2" height="455.85" fill="#595959" stroke="none"/>
<rect x="818.16" y="1165.35" width="6.5" height="455.85" fill="#595959" stroke="none"/>
<rect x="818.16" y="1165.35" width="4.3" height="455.85" fill="#595959" stroke="none"/>
<rect x="824.12" y="1099" width="15.3" height="522.2" fill="url(#b6g3)" stroke="#595959" stroke-width="2.9"/>
<rect x="822.27" y="1098.15" width="4.2" height="523.05" fill="#595959" stroke="none"/>
<rect x="837.07" y="1098.15" width="4.3" height="523.05" fill="#595959" stroke="none"/>
<rect x="843.33" y="1113.8" width="14.7" height="507.4" fill="url(#b7g3)" stroke="#000"/>
<rect x="890.34" y="1334.4" width="14.7" height="286.8" fill="url(#b0g4)" stroke="#000"/>
<rect x="909.25" y="1318.6" width="14.7" height="302.6" fill="url(#b1g4)" stroke="#000"/>
<rect x="928.16" y="1296.3" width="14.7" height="324.9" fill="url(#b2g4)" stroke="#000"/>
<rect x="947.07" y="1200.9" width="14.7" height="420.3" fill="url(#b3g4)" stroke="#000"/>
<rect x="965.68" y="1190.2" width="15.3" height="431" fill="url(#b4g4)" stroke="#595959" stroke-width="2.9"/>
<rect x="984.59" y="1161.3" width="15.3" height="459.9" fill="url(#b5g4)" stroke="#595959" stroke-width="2.9"/>
<rect x="1003.5" y="1104.6" width="15.3" height="516.6" fill="url(#b6g4)" stroke="#595959" stroke-width="2.9"/>
<rect x="1016.45" y="1103.75" width="4.3" height="517.45" fill="#595959" stroke="none"/>
<rect x="1022.71" y="1096.1" width="14.7" height="525.1" fill="url(#b7g4)" stroke="#000"/>
<rect x="1069.71" y="1261.4" width="14.7" height="359.8" fill="url(#b0g5)" stroke="#000"/>
<rect x="1088.62" y="1409.8" width="14.7" height="211.4" fill="url(#b1g5)" stroke="#000"/>
<rect x="1107.53" y="1389.2" width="14.7" height="232" fill="url(#b2g5)" stroke="#000"/>
<rect x="1126.44" y="1243.2" width="14.7" height="378" fill="url(#b3g5)" stroke="#000"/>
<rect x="1145.05" y="1215.8" width="15.3" height="405.4" fill="url(#b4g5)" stroke="#595959" stroke-width="2.9"/>
<rect x="1158" y="1214.95" width="6.5" height="406.25" fill="#595959" stroke="none"/>
<rect x="1158" y="1214.95" width="4.3" height="406.25" fill="#595959" stroke="none"/>
<rect x="1163.96" y="1161" width="15.3" height="460.2" fill="url(#b5g5)" stroke="#595959" stroke-width="2.9"/>
<rect x="1162.11" y="1160.15" width="4.2" height="461.05" fill="#595959" stroke="none"/>
<rect x="1176.91" y="1160.15" width="6.5" height="461.05" fill="#595959" stroke="none"/>
<rect x="1176.91" y="1160.15" width="4.3" height="461.05" fill="#595959" stroke="none"/>
<rect x="1182.87" y="1156.3" width="15.3" height="464.9" fill="url(#b6g5)" stroke="#595959" stroke-width="2.9"/>
<rect x="1181.02" y="1155.45" width="4.2" height="465.75" fill="#595959" stroke="none"/>
<rect x="1202.08" y="1125.6" width="14.7" height="495.6" fill="url(#b7g5)" stroke="#000"/>
<rect x="1249.08" y="1280.2" width="14.7" height="341" fill="url(#b0g6)" stroke="#000"/>
<rect x="1267.99" y="1345.7" width="14.7" height="275.5" fill="url(#b1g6)" stroke="#000"/>
<rect x="1286.9" y="1201.2" width="14.7" height="420" fill="url(#b2g6)" stroke="#000"/>
<rect x="1305.81" y="1204.7" width="14.7" height="416.5" fill="url(#b3g6)" stroke="#000"/>
<rect x="1324.42" y="1200.1" width="15.3" height="421.1" fill="url(#b4g6)" stroke="#595959" stroke-width="2.9"/>
<rect x="1337.37" y="1199.25" width="6.5" height="421.95" fill="#595959" stroke="none"/>
<rect x="1337.37" y="1199.25" width="4.3" height="421.95" fill="#595959" stroke="none"/>
<rect x="1343.33" y="1153" width="15.3" height="468.2" fill="url(#b5g6)" stroke="#595959" stroke-width="2.9"/>
<rect x="1341.48" y="1152.15" width="4.2" height="469.05" fill="#595959" stroke="none"/>
<rect x="1356.28" y="1152.15" width="6.5" height="469.05" fill="#595959" stroke="none"/>
<rect x="1356.28" y="1152.15" width="4.3" height="469.05" fill="#595959" stroke="none"/>
<rect x="1362.24" y="1129.4" width="15.3" height="491.8" fill="url(#b6g6)" stroke="#595959" stroke-width="2.9"/>
<rect x="1360.39" y="1128.55" width="4.2" height="492.65" fill="#595959" stroke="none"/>
<rect x="1375.19" y="1128.55" width="4.3" height="492.65" fill="#595959" stroke="none"/>
<rect x="1381.45" y="1112.5" width="14.7" height="508.7" fill="url(#b7g6)" stroke="#000"/>
</g>
<g stroke="#000" stroke-width="2.5" fill="none">
<path d="M180.2 1124V1139M171.7 1124H188.7M171.7 1139H188.7"/>
<path d="M199.11 1129.7V1144.1M190.61 1129.7H207.61M190.61 1144.1H207.61"/>
<path d="M218.02 1191V1209.2M209.52 1191H226.52M209.52 1209.2H226.52"/>
<path d="M236.93 1200.8V1207.8M228.43 1200.8H245.43M228.43 1207.8H245.43"/>
<path d="M255.84 1103.1V1110.1M247.34 1103.1H264.34M247.34 1110.1H264.34"/>
<path d="M274.75 1123.3V1134.7M266.25 1123.3H283.25M266.25 1134.7H283.25"/>
<path d="M293.66 1115.8V1122.2M285.16 1115.8H302.16M285.16 1122.2H302.16"/>
<path d="M312.57 1121.3V1127.5M304.07 1121.3H321.07M304.07 1127.5H321.07"/>
<path d="M359.57 1378.7V1392.3M351.07 1378.7H368.07M351.07 1392.3H368.07"/>
<path d="M378.48 1350.5V1357.7M369.98 1350.5H386.98M369.98 1357.7H386.98"/>
<path d="M397.39 1291.1V1296.9M388.89 1291.1H405.89M388.89 1296.9H405.89"/>
<path d="M416.3 1229.5V1235.7M407.8 1229.5H424.8M407.8 1235.7H424.8"/>
<path d="M435.21 1157.2V1169.2M426.71 1157.2H443.71M426.71 1169.2H443.71"/>
<path d="M454.12 1161.6V1167M445.62 1161.6H462.62M445.62 1167H462.62"/>
<path d="M473.03 1114.4V1126.2M464.53 1114.4H481.53M464.53 1126.2H481.53"/>
<path d="M491.94 1079.8V1087.8M483.44 1079.8H500.44M483.44 1087.8H500.44"/>
<path d="M538.94 1399.4V1411.2M530.44 1399.4H547.44M530.44 1411.2H547.44"/>
<path d="M557.85 1380.3V1386.7M549.35 1380.3H566.35M549.35 1386.7H566.35"/>
<path d="M576.76 1308.5V1319.9M568.26 1308.5H585.26M568.26 1319.9H585.26"/>
<path d="M595.67 1225.1V1235.1M587.17 1225.1H604.17M587.17 1235.1H604.17"/>
<path d="M614.58 1200.7V1211.9M606.08 1200.7H623.08M606.08 1211.9H623.08"/>
<path d="M633.49 1194.1V1202.3M624.99 1194.1H641.99M624.99 1202.3H641.99"/>
<path d="M652.4 1102.8V1110.6M643.9 1102.8H660.9M643.9 1110.6H660.9"/>
<path d="M671.31 1095.3V1101.3M662.81 1095.3H679.81M662.81 1101.3H679.81"/>
<path d="M718.31 1414.2V1427.8M709.81 1414.2H726.81M709.81 1427.8H726.81"/>
<path d="M737.22 1391.9V1398.9M728.72 1391.9H745.72M728.72 1398.9H745.72"/>
<path d="M756.13 1374.9V1386.5M747.63 1374.9H764.63M747.63 1386.5H764.63"/>
<path d="M775.04 1194V1200.6M766.54 1194H783.54M766.54 1200.6H783.54"/>
<path d="M793.95 1175.9V1183.9M785.45 1175.9H802.45M785.45 1183.9H802.45"/>
<path d="M812.86 1160.8V1171.6M804.36 1160.8H821.36M804.36 1171.6H821.36"/>
<path d="M831.77 1091.1V1106.9M823.27 1091.1H840.27M823.27 1106.9H840.27"/>
<path d="M850.68 1107.5V1120.1M842.18 1107.5H859.18M842.18 1120.1H859.18"/>
<path d="M897.69 1331.4V1337.4M889.19 1331.4H906.19M889.19 1337.4H906.19"/>
<path d="M916.6 1312.8V1324.4M908.1 1312.8H925.1M908.1 1324.4H925.1"/>
<path d="M935.51 1293.8V1298.8M927.01 1293.8H944.01M927.01 1298.8H944.01"/>
<path d="M954.42 1194V1207.8M945.92 1194H962.92M945.92 1207.8H962.92"/>
<path d="M973.33 1186.4V1194M964.83 1186.4H981.83M964.83 1194H981.83"/>
<path d="M992.24 1153.8V1168.8M983.74 1153.8H1000.74M983.74 1168.8H1000.74"/>
<path d="M1011.15 1099.2V1110M1002.65 1099.2H1019.65M1002.65 1110H1019.65"/>
<path d="M1030.06 1091.6V1100.6M1021.56 1091.6H1038.56M1021.56 1100.6H1038.56"/>
<path d="M1077.06 1257.7V1265.1M1068.56 1257.7H1085.56M1068.56 1265.1H1085.56"/>
<path d="M1095.97 1406.1V1413.5M1087.47 1406.1H1104.47M1087.47 1413.5H1104.47"/>
<path d="M1114.88 1386.4V1392M1106.38 1386.4H1123.38M1106.38 1392H1123.38"/>
<path d="M1133.79 1239.4V1247M1125.29 1239.4H1142.29M1125.29 1247H1142.29"/>
<path d="M1152.7 1211.5V1220.1M1144.2 1211.5H1161.2M1144.2 1220.1H1161.2"/>
<path d="M1171.61 1155.9V1166.1M1163.11 1155.9H1180.11M1163.11 1166.1H1180.11"/>
<path d="M1190.52 1153.6V1159M1182.02 1153.6H1199.02M1182.02 1159H1199.02"/>
<path d="M1209.43 1122.5V1128.7M1200.93 1122.5H1217.93M1200.93 1128.7H1217.93"/>
<path d="M1256.43 1276.8V1283.6M1247.93 1276.8H1264.93M1247.93 1283.6H1264.93"/>
<path d="M1275.34 1341.6V1349.8M1266.84 1341.6H1283.84M1266.84 1349.8H1283.84"/>
<path d="M1294.25 1197V1205.4M1285.75 1197H1302.75M1285.75 1205.4H1302.75"/>
<path d="M1313.16 1201.2V1208.2M1304.66 1201.2H1321.66M1304.66 1208.2H1321.66"/>
<path d="M1332.07 1197.2V1203M1323.57 1197.2H1340.57M1323.57 1203H1340.57"/>
<path d="M1350.98 1151.4V1154.6M1342.48 1151.4H1359.48M1342.48 1154.6H1359.48"/>
<path d="M1369.89 1126.2V1132.6M1361.39 1126.2H1378.39M1361.39 1132.6H1378.39"/>
<path d="M1388.8 1107.4V1117.6M1380.3 1107.4H1397.3M1380.3 1117.6H1397.3"/>
</g>
<g stroke="#000" fill="none">
<path stroke-width="2.3" d="M156.5 1033.7V1633.2"/>
<path stroke-width="2.6" d="M144.5 1621.2H1412.1"/>
<path stroke-width="2.1" d="M144.3 1621.2H168.3M144.3 1537.27H168.3M144.3 1453.34H168.3M144.3 1369.41H168.3M144.3 1285.48H168.3M144.3 1201.55H168.3M144.3 1117.62H168.3M144.3 1033.69H168.3"/>
<path stroke-width="2.4" d="M335.87 1608.8V1632.8M515.24 1608.8V1632.8M694.61 1608.8V1632.8M873.99 1608.8V1632.8M1053.36 1608.8V1632.8M1232.73 1608.8V1632.8M1412.1 1608.8V1632.8"/>
</g>
<g font-size="38.5" text-anchor="end">
<text x="123.9" y="1638.8">86</text>
<text x="123.9" y="1554.87">88</text>
<text x="123.9" y="1470.94">90</text>
<text x="123.9" y="1387.01">92</text>
<text x="123.9" y="1303.08">94</text>
<text x="123.9" y="1219.15">96</text>
<text x="123.9" y="1135.22">98</text>
<text x="123.9" y="1051.29">100</text>
</g>
<g font-weight="bold" font-size="38">
<text transform="translate(245.59 1678.4) scale(0.985 1)" text-anchor="middle">K1</text>
<text transform="translate(424.96 1678.4) scale(0.985 1)" text-anchor="middle">K2</text>
<text transform="translate(604.33 1678.4) scale(0.985 1)" text-anchor="middle">K3</text>
<text transform="translate(783.7 1678.4) scale(0.985 1)" text-anchor="middle">K4</text>
<text transform="translate(963.07 1678.4) scale(0.985 1)" text-anchor="middle">K5</text>
<text transform="translate(1142.44 1678.4) scale(0.985 1)" text-anchor="middle">K6</text>
<text transform="translate(1321.81 1678.4) scale(0.985 1)" text-anchor="middle">K7</text>
<text transform="translate(763.9 1732.2) scale(0.985 1)" text-anchor="middle">Kombucha products</text>
<text transform="translate(144.4 1810) scale(0.985 1)">Day 0</text>
<text transform="translate(296.3 1810) scale(0.985 1)">Day 2</text>
<text transform="translate(448.3 1810) scale(0.985 1)">Day 4</text>
<text transform="translate(600.8 1810) scale(0.985 1)">Day 6</text>
<text transform="translate(753.4 1810) scale(0.985 1)">Day 8</text>
<text transform="translate(904.6 1810) scale(0.985 1)">Day 10</text>
<text transform="translate(1075.4 1810) scale(0.985 1)">Day 12</text>
<text transform="translate(1246.6 1810) scale(0.985 1)">Day 14</text>
</g>
<g stroke-width="3.3">
<rect x="115.55" y="1789.95" width="19.9" height="19.9" fill="url(#b0l)" stroke="#000"/>
<rect x="267.45" y="1789.95" width="19.9" height="19.9" fill="url(#b1l)" stroke="#000"/>
<rect x="419.45" y="1789.95" width="19.9" height="19.9" fill="url(#b2l)" stroke="#000"/>
<rect x="571.95" y="1789.95" width="19.9" height="19.9" fill="url(#b3l)" stroke="#000"/>
<rect x="724.55" y="1789.95" width="19.9" height="19.9" fill="url(#b4l)" stroke="#595959"/>
<rect x="875.75" y="1789.95" width="19.9" height="19.9" fill="url(#b5l)" stroke="#595959"/>
<rect x="1046.55" y="1789.95" width="19.9" height="19.9" fill="url(#b6l)" stroke="#595959"/>
<rect x="1217.75" y="1789.95" width="19.9" height="19.9" fill="url(#b7l)" stroke="#000"/>
</g>
<g font-weight="bold" font-size="40.5">
<text x="58.6" y="28">A</text>
<text x="45" y="988">B</text>
</g>
<g font-weight="bold" font-size="38" text-anchor="middle">
<text transform="translate(26.7 350.6) rotate(-90) scale(0.991 1)">The ferric ion reducing antioxidant</text>
<text transform="translate(69.5 346.2) rotate(-90) scale(0.993 1)">(mM Fe(II)/L)</text>
<text transform="translate(30.4 1321.3) rotate(-90) scale(0.99 1)">ABTS+ radical scavenging ability (%)</text>
</g>
</svg>
</body></html>
